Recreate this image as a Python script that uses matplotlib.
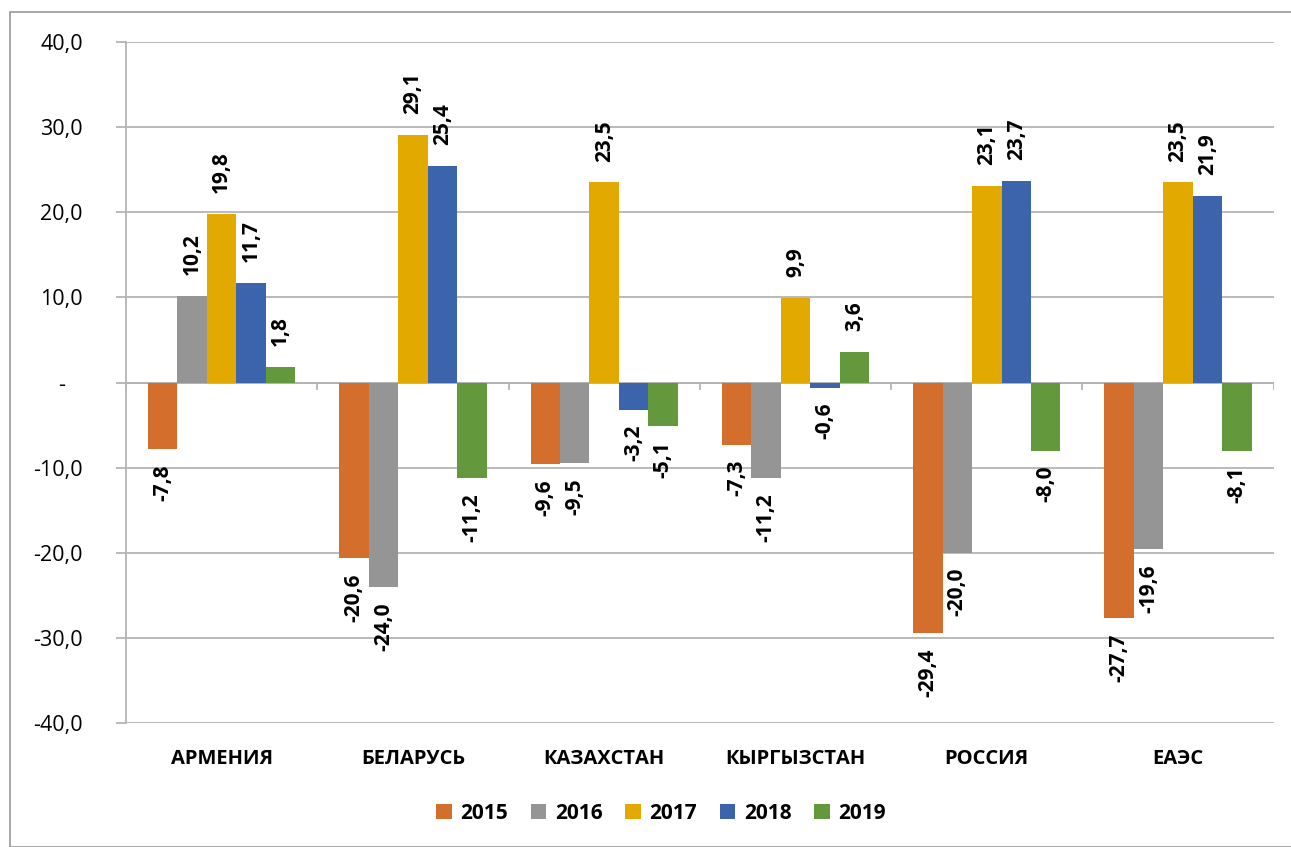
import numpy as np
import matplotlib.pyplot as plt
from matplotlib.patches import Rectangle

plt.rcParams['font.family'] = ['Open Sans', 'DejaVu Sans']

# данные
categories = ['АРМЕНИЯ', 'БЕЛАРУСЬ', 'КАЗАХСТАН', 'КЫРГЫЗСТАН', 'РОССИЯ', 'ЕАЭС']
years = ['2015', '2016', '2017', '2018', '2019']
v2015 = [-7.8, -20.6, -9.6, -7.3, -29.4, -27.7]
v2016 = [10.2, -24.0, -9.5, -11.2, -20.0, -19.6]
v2017 = [19.8, 29.1, 23.5, 9.9, 23.1, 23.5]
v2018 = [11.7, 25.4, -3.2, -0.6, 23.7, 21.9]
v2019 = [1.8, -11.2, -5.1, 3.6, -8.0, -8.1]
series = [v2015, v2016, v2017, v2018, v2019]
colors = ['#D46E2C', '#959595', '#E2AA00', '#3C64AD', '#63983D']

fig = plt.figure(figsize=(12.91, 8.47), dpi=100)
ax = fig.add_axes([0.0976, 0.1464, 0.889, 0.804])

x = np.arange(len(categories))
w = 0.154
for i, (vals, c) in enumerate(zip(series, colors)):
    pos = x - 2 * w + i * w
    ax.bar(pos, vals, w, color=c, label=years[i], zorder=3)
    for p, v in zip(pos, vals):
        s = f'{v:.1f}'.replace('.', ',')
        if v >= 0:
            ax.annotate(s, (p, v), xytext=(0, 15), textcoords='offset points',
                        rotation=90, ha='center', va='bottom',
                        fontsize=15, fontweight='bold')
        else:
            ax.annotate(s, (p, v), xytext=(0, -11), textcoords='offset points',
                        rotation=90, ha='center', va='top',
                        fontsize=15, fontweight='bold')

ax.set_xlim(-0.5, len(categories) - 0.5)
ax.set_ylim(-40, 40)
yt = np.arange(-40, 41, 10)
ax.set_yticks(yt)
ax.set_yticklabels(['-   ' if t == 0 else f'{t:.1f}'.replace('.', ',') for t in yt],
                   fontsize=15.5)
ax.yaxis.grid(True, color='#B4B4B4', linewidth=1.3, zorder=0)
ax.set_axisbelow(True)
ax.tick_params(axis='y', length=7, width=1.3, color='#B4B4B4', pad=24)

ax.set_xticks(x)
ax.set_xticklabels(categories, fontsize=14.5, fontweight='bold')
ax.tick_params(axis='x', length=0, pad=19)

for s in ['top', 'right', 'bottom']:
    ax.spines[s].set_visible(False)
ax.spines['left'].set_color('#B4B4B4')
ax.spines['left'].set_linewidth(1.3)

ax.axhline(0, color='#B4B4B4', linewidth=1.3, zorder=2)
for b in np.arange(-0.5, len(categories), 1.0):
    ax.plot([b, b], [0, -0.8], color='#B4B4B4', linewidth=1.3, zorder=2)

fig.legend(loc='center', bbox_to_anchor=(0.512, 0.04), ncol=5, frameon=False,
           prop={'size': 15, 'weight': 'bold'}, handlelength=0.75,
           handleheight=0.75, columnspacing=1.1, handletextpad=0.4)

fig.patches.append(Rectangle((10 / 1291, 0), 1.0, 1 - 12 / 847,
                             transform=fig.transFigure, fill=False,
                             edgecolor='#A0A0A0', linewidth=1.3))

fig.savefig('out.png', dpi=100)
